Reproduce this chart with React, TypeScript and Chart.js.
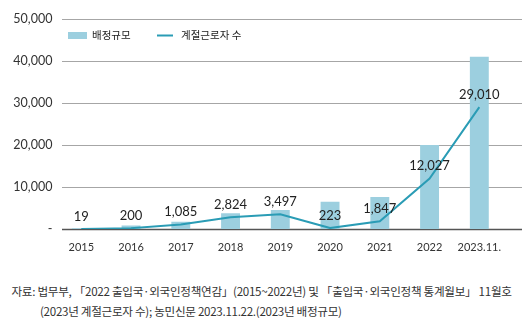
import React, { useEffect, useRef } from "react";
import { Chart, registerables } from "chart.js";

Chart.register(...registerables);

const categories = ["2015", "2016", "2017", "2018", "2019", "2020", "2021", "2022", "2023.11."];
const allocation = [150, 850, 1700, 3750, 4500, 6500, 7600, 20000, 41000];
const seasonalWorkers = [19, 200, 1085, 2824, 3497, 223, 1847, 12027, 29010];
const yTicks = [0, 10000, 20000, 30000, 40000, 50000];
const legendLabels = ["배정규모", "계절근로자 수"];
const sourceLines = [
  "자료: 법무부, 「2022 출입국·외국인정책연감」(2015~2022년) 및 「출입국·외국인정책 통계월보」 11월호",
  "(2023년 계절근로자 수); 농민신문 2023.11.22.(2023년 배정규모)",
];

const BAR_COLOR = "#9ccfdf";
const LINE_COLOR = "#2a9cb5";

const fmt = (v: number) => (v === 0 ? "-" : v.toLocaleString("en-US"));

const gridPlugin = {
  id: "customGrid",
  beforeDatasetsDraw(chart: any) {
    const { ctx } = chart;
    const y = chart.scales.y;
    ctx.save();
    yTicks.forEach((t) => {
      const py = Math.round(y.getPixelForValue(t)) + 0.5;
      ctx.beginPath();
      ctx.lineWidth = t === 0 ? 1.5 : 1.2;
      ctx.strokeStyle = t === 0 ? "#555555" : "#a6a6a6";
      ctx.moveTo(62, py);
      ctx.lineTo(522, py);
      ctx.stroke();
    });
    ctx.restore();
  },
};

const labelPlugin = {
  id: "valueLabels",
  afterDatasetsDraw(chart: any) {
    const { ctx } = chart;
    const meta = chart.getDatasetMeta(1);
    ctx.save();
    ctx.font = "13px Lato";
    ctx.fillStyle = "#222222";
    ctx.textAlign = "center";
    ctx.textBaseline = "middle";
    meta.data.forEach((pt: any, i: number) => {
      ctx.fillText(fmt(seasonalWorkers[i]), pt.x, pt.y - 12.5);
    });
    ctx.restore();
  },
};

const legendPlugin = {
  id: "customLegend",
  afterDraw(chart: any) {
    const { ctx } = chart;
    const cy = 35.5;
    ctx.save();
    ctx.fillStyle = BAR_COLOR;
    ctx.fillRect(68, cy - 3.5, 19, 7);
    ctx.strokeStyle = LINE_COLOR;
    ctx.lineWidth = 2;
    ctx.beginPath();
    ctx.moveTo(157, cy);
    ctx.lineTo(173, cy);
    ctx.stroke();
    ctx.font = '10.5px "Noto Sans CJK KR"';
    ctx.fillStyle = "#222222";
    ctx.textBaseline = "middle";
    ctx.textAlign = "left";
    ctx.fillText(legendLabels[0], 92, cy);
    ctx.fillText(legendLabels[1], 181, cy);
    ctx.restore();
  },
};

export default function App() {
  const ref = useRef<HTMLCanvasElement>(null);
  useEffect(() => {
    if (!ref.current) return;
    const chart = new Chart(ref.current, {
      type: "bar",
      data: {
        labels: categories,
        datasets: [
          {
            type: "bar",
            label: legendLabels[0],
            data: allocation,
            backgroundColor: BAR_COLOR,
            barPercentage: 0.38,
            categoryPercentage: 1,
            order: 2,
          },
          {
            type: "line",
            label: legendLabels[1],
            data: seasonalWorkers,
            borderColor: LINE_COLOR,
            backgroundColor: LINE_COLOR,
            borderWidth: 2,
            pointRadius: 0,
            tension: 0,
            order: 1,
          } as any,
        ],
      },
      options: {
        responsive: false,
        animation: false,
        layout: { padding: { left: 0, right: 24.8, top: 19, bottom: 0 } },
        plugins: { legend: { display: false }, tooltip: { enabled: false } },
        scales: {
          x: {
            offset: true,
            grid: { display: false, drawTicks: false },
            border: { display: false },
            ticks: { color: "#333333", font: { family: "Lato", size: 11 }, padding: 12, maxRotation: 0, autoSkip: false },
            afterFit(s: any) {
              s.height = 36;
            },
          },
          y: {
            min: 0,
            max: 50000,
            afterBuildTicks(s: any) {
              s.ticks = yTicks.map((v) => ({ value: v }));
            },
            grid: { display: false, drawTicks: false },
            border: { display: false },
            ticks: {
              color: "#333333",
              font: { family: "Lato", size: 12.5 },
              padding: 4,
              callback: (v: any) => fmt(Number(v)),
            },
            afterFit(s: any) {
              s.width = 56.4;
            },
          },
        },
      },
      plugins: [gridPlugin, labelPlugin, legendPlugin],
    });
    return () => chart.destroy();
  }, []);

  return (
    <div style={{ position: "absolute", left: 0, top: 0, width: 529, height: 332, background: "#fff", overflow: "hidden" }}>
      <canvas ref={ref} width={529} height={265} style={{ display: "block" }} />
      <div
        style={{
          position: "absolute",
          left: 11.5,
          top: 281,
          fontFamily: '"Noto Sans CJK KR"',
          fontSize: 11.6,
          lineHeight: "20px",
          color: "#333333",
          whiteSpace: "nowrap",
          letterSpacing: -0.3,
        }}
      >
        <div>{sourceLines[0]}</div>
        <div style={{ paddingLeft: 28.5 }}>{sourceLines[1]}</div>
      </div>
    </div>
  );
}
